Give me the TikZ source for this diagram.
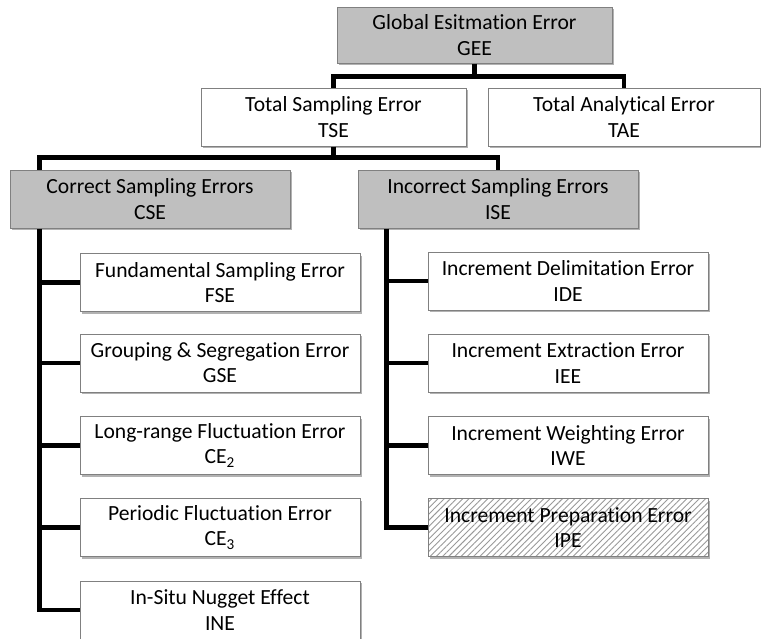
\documentclass[tikz,border=0pt]{standalone}
\usepackage{fontspec}
\setmainfont{Carlito}[RawFeature={-liga;-clig;-calt;-dlig;-rlig}]
\usetikzlibrary{shadows,patterns.meta}
\begin{document}
\begin{tikzpicture}[x=0.5pt,y=-0.5pt,
  font=\fontsize{10.8}{12.6}\selectfont,
  box/.style={draw=gray, line width=0.5pt, fill=white, align=center, inner sep=0pt,
    minimum width=140pt, minimum height=29pt,
    drop shadow={shadow xshift=1.2pt, shadow yshift=-1.2pt, opacity=0.3, fill=black}},
  headbox/.style={box, fill=gray!50},
  hatchbox/.style={box, preaction={fill=white},
    pattern={Lines[angle=45, distance=2.2pt, line width=0.45pt]}, pattern color=gray!80},
  link/.style={line width=2.4pt, line join=miter}]
\useasboundingbox (0,0) rectangle (761,638);
\node[headbox, minimum width=137.5pt, minimum height=28pt] (gee) at (474.5,35) {Global Esitmation Error\\GEE};
\node[box, minimum width=132.5pt] (tse) at (333.5,117) {Total Sampling Error\\TSE};
\node[box, minimum width=136pt] (tae) at (624,117) {Total Analytical Error\\TAE};
\node[headbox] (cse) at (150,199) {Correct Sampling Errors\\CSE};
\node[headbox] (ise) at (498,199) {Incorrect Sampling Errors\\ISE};
\node[box] (fse) at (220,282.5) {Fundamental Sampling Error\\FSE};
\node[box] (gse) at (220,363) {Grouping \& Segregation Error\\GSE};
\node[box] (ce2) at (220,445.5) {Long-range Fluctuation Error\\CE\textsubscript{2}};
\node[box] (ce3) at (220,527.5) {Periodic Fluctuation Error\\CE\textsubscript{3}};
\node[box] (ine) at (220,610) {In-Situ Nugget Effect\\INE};
\node[box] (ide) at (568,281) {Increment Delimitation Error\\IDE};
\node[box] (iee) at (568,363) {Increment Extraction Error\\IEE};
\node[box] (iwe) at (568,445.5) {Increment Weighting Error\\IWE};
\node[hatchbox] (ipe) at (568,527.5) {Increment Preparation Error\\IPE};
\draw[link] (gee.south) -- ++(0,13) coordinate (gbar) -| (tse.north);
\draw[link] (gbar) -| (tae.north);
\draw[link] (tse.south) -- ++(0,11) coordinate (tbar) -| ([xshift=15pt]cse.north west);
\draw[link] (tbar) -| (ise.north);
\coordinate (cline) at ([xshift=15pt]cse.south west);
\coordinate (iline) at ([xshift=14.5pt]ise.south west);
\draw[link] (cline) |- (ine.west);
\draw[link] (iline) |- (ipe.west);
\foreach \n in {fse,gse,ce2,ce3}
  \draw[link] (cline |- \n.west) -- (\n.west);
\foreach \n in {ide,iee,iwe}
  \draw[link] (iline |- \n.west) -- (\n.west);
\end{tikzpicture}
\end{document}
